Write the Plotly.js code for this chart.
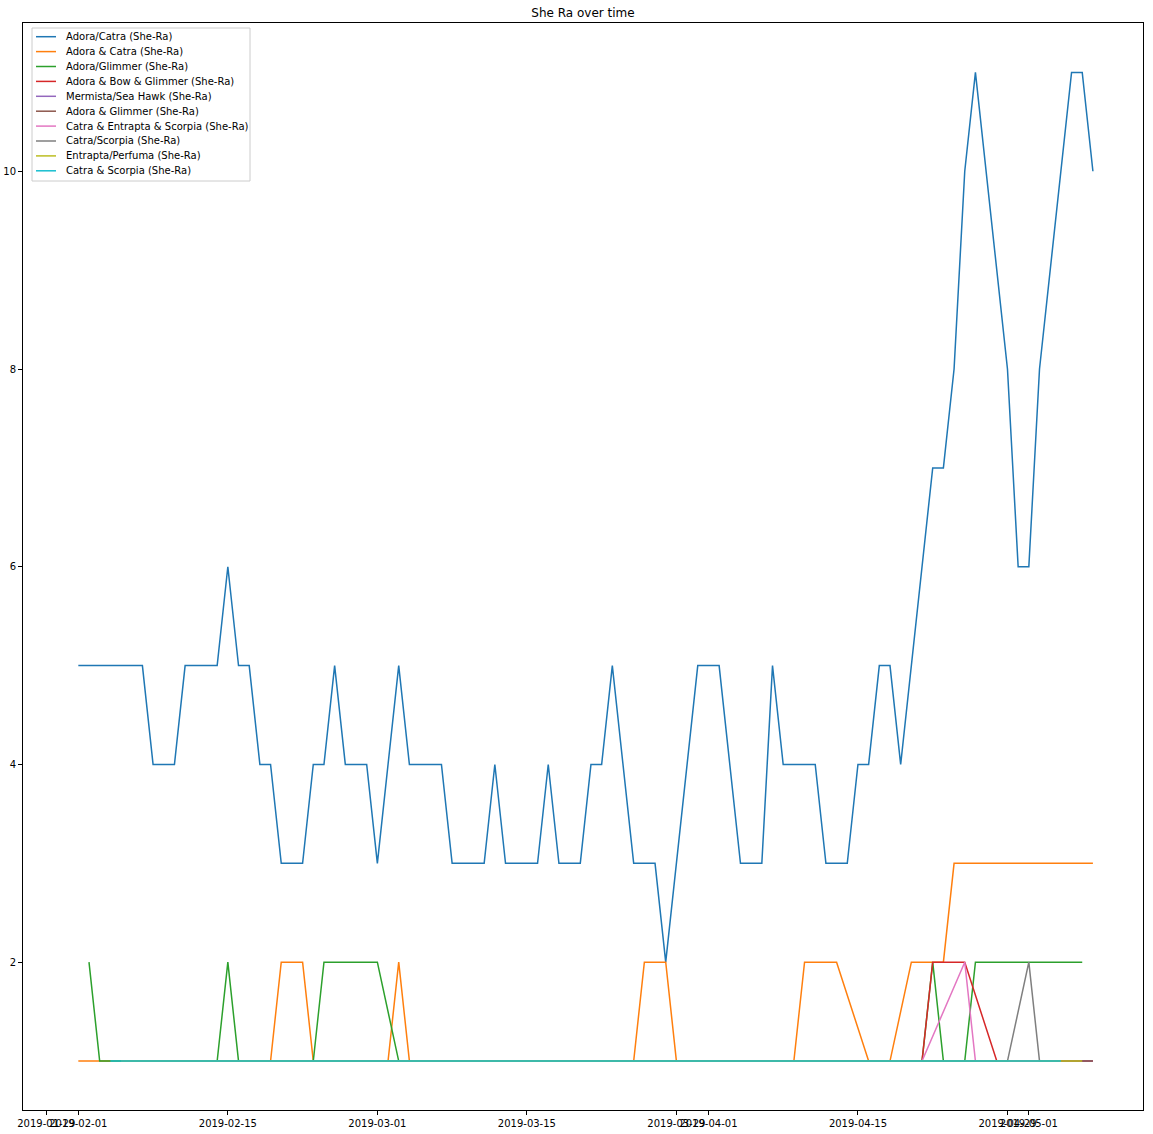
<!DOCTYPE html>
<html>
<head>
<meta charset="utf-8">
<script src="https://cdn.plot.ly/plotly-3.0.1.min.js"></script>
<style>html,body{margin:0;padding:0;background:#fff;}#chart{width:1153px;height:1134px;}</style>
</head>
<body>
<div id="chart"></div>
<script>
// ---- data (day offsets counted from startDate) ----
const startDate = '2019-02-01';
const seriesNames = [
  'Adora/Catra (She-Ra)', 'Adora & Catra (She-Ra)', 'Adora/Glimmer (She-Ra)',
  'Adora & Bow & Glimmer (She-Ra)', 'Mermista/Sea Hawk (She-Ra)', 'Adora & Glimmer (She-Ra)',
  'Catra & Entrapta & Scorpia (She-Ra)', 'Catra/Scorpia (She-Ra)', 'Entrapta/Perfuma (She-Ra)',
  'Catra & Scorpia (She-Ra)'
];
const adoraCatraDays = [0,6,7,9,10,13,14,15,16,17,18,19,21,22,23,24,25,27,28,30,31,34,35,38,39,40,43,44,45,47,48,49,50,52,54,55,58,60,62,64,65,66,69,70,72,73,74,75,76,77,80,81,82,83,84,87,88,89,90,93,94,95];
const adoraCatraVals = [5,5,4,4,5,5,6,5,5,4,4,3,3,4,4,5,4,4,3,5,4,4,3,3,4,3,3,4,3,3,4,4,5,3,3,2,5,5,3,3,5,4,4,3,3,4,4,5,5,4,7,7,8,10,11,8,6,6,8,11,11,10];
const adoraAndCatraDays = [0,18,19,21,22,29,30,31,52,53,55,56,67,68,71,74,76,78,81,82,95];
const adoraAndCatraVals = [1,1,2,2,1,1,2,1,1,2,2,1,1,2,2,1,1,2,2,3,3];
const adoraGlimmerDays = [1,2,13,14,15,22,23,28,30,79,80,81,83,84,94];
const adoraGlimmerVals = [2,1,1,2,1,1,2,2,1,1,2,1,1,2,2];
const adoraBowGlimmerDays = [4,79,80,83,86,95];
const adoraBowGlimmerVals = [1,1,2,2,1,1];
const mermistaSeaHawkDays = [4,95];
const mermistaSeaHawkVals = [1,1];
const adoraAndGlimmerDays = [4,95];
const adoraAndGlimmerVals = [1,1];
const catraEntraptaScorpiaDays = [4,79,83,84,92];
const catraEntraptaScorpiaVals = [1,1,2,1,1];
const catraScorpiaDays = [4,87,89,90,92];
const catraScorpiaVals = [1,1,2,1,1];
const entraptaPerfumaDays = [4,94];
const entraptaPerfumaVals = [1,1];
const catraAndScorpiaDays = [3,92];
const catraAndScorpiaVals = [1,1];

const tickDates = ['2019-01-29','2019-02-01','2019-02-15','2019-03-01','2019-03-15','2019-03-29','2019-04-01','2019-04-15','2019-04-29','2019-05-01'];
const yTicks = [2,4,6,8,10];

const colors = ['#1f77b4','#ff7f0e','#2ca02c','#d62728','#9467bd','#8c564b','#e377c2','#7f7f7f','#bcbd22','#17becf'];

// ---- helpers ----
const DAY = 86400000;
const t0 = Date.parse(startDate + 'T00:00:00Z');
function fmt(ms){ return new Date(ms).toISOString().replace('T',' ').replace('Z',''); }
function toDates(days){ return days.map(d => fmt(t0 + d*DAY)); }

const allDays = [adoraCatraDays, adoraAndCatraDays, adoraGlimmerDays, adoraBowGlimmerDays, mermistaSeaHawkDays,
  adoraAndGlimmerDays, catraEntraptaScorpiaDays, catraScorpiaDays, entraptaPerfumaDays, catraAndScorpiaDays];
const allVals = [adoraCatraVals, adoraAndCatraVals, adoraGlimmerVals, adoraBowGlimmerVals, mermistaSeaHawkVals,
  adoraAndGlimmerVals, catraEntraptaScorpiaVals, catraScorpiaVals, entraptaPerfumaVals, catraAndScorpiaVals];

const traces = seriesNames.map((name, i) => ({
  type: 'scatter', mode: 'lines', name: name,
  x: toDates(allDays[i]), y: allVals[i],
  line: {color: colors[i], width: 1.5},
  showlegend: false, hoverinfo: 'skip'
}));

// ---- layout geometry (pixels) ----
const W = 1153, H = 1134;
const L = 23, R = 1143, T = 23, B = 1110;
const px2x = p => (p - L) / (R - L);
const px2y = p => (B - p) / (B - T);

// manual matplotlib-style legend
const shapes = [];
const annotations = [];
shapes.push({type:'rect', xref:'paper', yref:'paper', x0:px2x(32), x1:px2x(250), y0:px2y(181), y1:px2y(28),
  line:{color:'#cccccc', width:1}, fillcolor:'rgba(255,255,255,0.8)', layer:'above'});
seriesNames.forEach((name, i) => {
  const yc = 36.7 + i*14.9;
  shapes.push({type:'line', xref:'paper', yref:'paper', x0:px2x(36), x1:px2x(56), y0:px2y(yc), y1:px2y(yc),
    line:{color:colors[i], width:1.5}, layer:'above'});
  annotations.push({xref:'paper', yref:'paper', x:px2x(64), y:px2y(yc), xanchor:'left', yanchor:'middle',
    text:name, showarrow:false, font:{family:'DejaVu Sans', size:10, color:'#000'}});
});

const layout = {
  width: W, height: H,
  margin: {l: L, r: W - R, t: T, b: H - B, pad: 0},
  paper_bgcolor: '#ffffff', plot_bgcolor: '#ffffff',
  font: {family: 'DejaVu Sans', size: 10, color: '#000'},
  title: {text: 'She Ra over time', x: (583 - 0) / W, xanchor: 'center', xref: 'container',
    y: 1 - 13 / H, yanchor: 'middle', yref: 'container', font: {family: 'DejaVu Sans', size: 12, color: '#000'}},
  xaxis: {
    type: 'date',
    range: [fmt(t0 - 5.18*DAY), fmt(t0 + 99.69*DAY)],
    tickmode: 'array', tickvals: tickDates, ticktext: tickDates, tickangle: 0,
    ticks: 'outside', ticklen: 4, tickwidth: 1, tickcolor: '#000',
    showgrid: false, zeroline: false, showline: true, mirror: true, linecolor: '#000', linewidth: 1,
    tickfont: {family: 'DejaVu Sans', size: 10, color: '#000'}
  },
  yaxis: {
    range: [0.505, 11.5],
    tickmode: 'array', tickvals: yTicks, ticktext: yTicks.map(String),
    ticks: 'outside', ticklen: 4, tickwidth: 1, tickcolor: '#000',
    showgrid: false, zeroline: false, showline: true, mirror: true, linecolor: '#000', linewidth: 1,
    tickfont: {family: 'DejaVu Sans', size: 10, color: '#000'}
  },
  shapes: shapes,
  annotations: annotations,
  showlegend: false
};

Plotly.newPlot('chart', traces, layout, {displayModeBar: false, staticPlot: true});
</script>
</body>
</html>
